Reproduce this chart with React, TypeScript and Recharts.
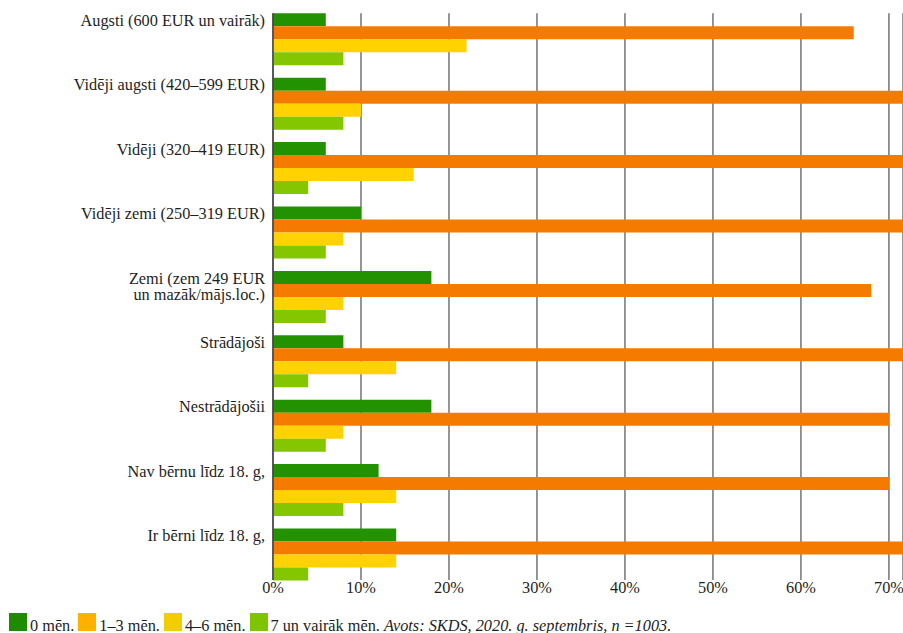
import React from 'react';
import { BarChart, Bar, XAxis, YAxis, CartesianGrid, Legend } from 'recharts';

const categories = [
  'Augsti (600 EUR un vairāk)',
  'Vidēji augsti (420–599 EUR)',
  'Vidēji (320–419 EUR)',
  'Vidēji zemi (250–319 EUR)',
  'Zemi (zem 249 EUR\nun mazāk/mājs.loc.)',
  'Strādājoši',
  'Nestrādājošii',
  'Nav bērnu līdz 18. g,',
  'Ir bērni līdz 18. g,',
];
const m0 = [6, 6, 6, 10, 18, 8, 18, 12, 14];
const m13 = [66, 76, 76, 76, 68, 76, 70, 70, 76];
const m46 = [22, 10, 16, 8, 8, 14, 8, 14, 14];
const m7 = [8, 8, 4, 6, 6, 4, 6, 8, 4];

const seriesNames = ['0 mēn.', '1–3 mēn.', '4–6 mēn.', '7 un vairāk mēn.'];
const barColors = ['#239200', '#F47B00', '#FFD200', '#84C600'];
const legendColors = ['#1F8C00', '#FFB000', '#F2CE00', '#7FC400'];
const xTicks = [0, 10, 20, 30, 40, 50, 60, 70];
const sourceText = 'Avots: SKDS, 2020. g. septembris, n =1003.';

const data = categories.map((name, i) => ({
  name,
  a: m0[i],
  b: m13[i],
  c: m46[i],
  d: m7[i],
}));

const FONT = "'Liberation Serif', serif";
const FS = 16.3;

const YTick = (props: any) => {
  const { x, y, payload } = props;
  const lines = String(payload.value).split('\n');
  return (
    <text x={x} y={y} textAnchor="end" fill="#1e1e1e" fontSize={FS} fontFamily={FONT}>
      {lines.map((l, i) => (
        <tspan key={i} x={x} y={y - 13 + i * 16.5}>
          {l}
        </tspan>
      ))}
    </text>
  );
};

const XTick = (props: any) => {
  const { x, y, payload } = props;
  return (
    <text x={x} y={y + 12.5} textAnchor="middle" fill="#1e1e1e" fontSize={FS} fontFamily={FONT}>
      {payload.value + '%'}
    </text>
  );
};

const LegendContent = () => (
  <div
    style={{
      display: 'flex',
      alignItems: 'baseline',
      fontFamily: FONT,
      fontSize: FS,
      lineHeight: '16px',
      color: '#1e1e1e',
      whiteSpace: 'nowrap',
      paddingLeft: 9,
    }}
  >
    {seriesNames.map((n, i) => (
      <React.Fragment key={n}>
        <span
          style={{
            display: 'inline-block',
            width: 18,
            height: 18,
            background: legendColors[i],
            marginRight: 3,
          }}
        />
        <span style={{ marginRight: 4 }}>{n}</span>
      </React.Fragment>
    ))}
    <span style={{ fontStyle: 'italic' }}>{sourceText}</span>
  </div>
);

export default function App() {
  return (
    <div style={{ position: 'absolute', left: 0, top: 0, width: 903, height: 633, background: '#fff' }}>
      <BarChart
        width={903}
        height={633}
        data={data}
        layout="vertical"
        margin={{ top: 13.3, right: 0, bottom: 33, left: 0 }}
        barCategoryGap="10%"
        barGap={0}
      >
        <CartesianGrid horizontal={false} stroke="#6a6a6a" strokeWidth={1.4} />
        <XAxis
          type="number"
          domain={[0, 71.6]}
          ticks={xTicks}
          allowDataOverflow
          axisLine={false}
          tickLine={false}
          tickSize={0}
          tickMargin={0}
          height={20}
          tick={<XTick />}
          interval={0}
        />
        <YAxis
          type="category"
          dataKey="name"
          width={273}
          axisLine={{ stroke: '#444', strokeWidth: 1.5 }}
          tickLine={false}
          tickSize={0}
          tickMargin={8}
          tick={<YTick />}
          interval={0}
          padding={{ top: -6.4, bottom: -6.4 }}
        />
        <Bar dataKey="a" name={seriesNames[0]} fill={barColors[0]} isAnimationActive={false} />
        <Bar dataKey="b" name={seriesNames[1]} fill={barColors[1]} isAnimationActive={false} />
        <Bar dataKey="c" name={seriesNames[2]} fill={barColors[2]} isAnimationActive={false} />
        <Bar dataKey="d" name={seriesNames[3]} fill={barColors[3]} isAnimationActive={false} />
        <Legend
          layout="vertical"
          align="center"
          verticalAlign="middle"
          content={<LegendContent />}
          wrapperStyle={{ position: 'absolute', left: 0, top: 613, width: 903 }}
        />
      </BarChart>
    </div>
  );
}
